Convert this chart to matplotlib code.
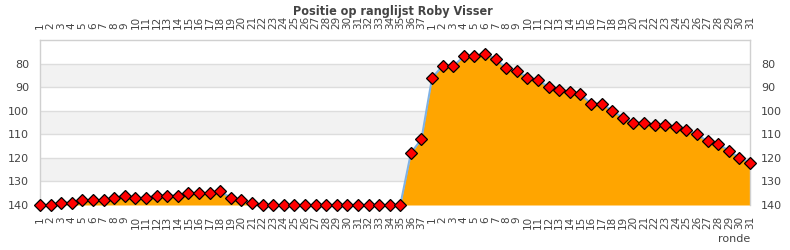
import matplotlib
matplotlib.use("Agg")
import matplotlib.pyplot as plt
import numpy as np

title = "Positie op ranglijst Roby Visser"
season1 = [140, 140, 139, 139, 138, 138, 138, 137, 136, 137, 137, 136, 136, 136, 135, 135, 135, 134,
           137, 138, 139, 140, 140, 140, 140, 140, 140, 140, 140, 140, 140, 140, 140, 140, 140, 118, 112]
season2 = [86, 81, 81, 77, 77, 76, 78, 82, 83, 86, 87, 90, 91, 92, 93, 97, 97, 100, 103, 105,
           105, 106, 106, 107, 108, 110, 113, 114, 117, 120, 122]
labels = [str(i) for i in range(1, 38)] + [str(i) for i in range(1, 32)]
values = season1 + season2
yticks = [80, 90, 100, 110, 120, 130, 140]

fig = plt.figure(figsize=(7.9, 2.5), dpi=100)
ax = fig.add_axes([40/790, 45/250, 710/790, 165/250])
x = np.arange(len(values))

# bands
for lo in (80, 100, 120):
    ax.axhspan(lo, lo + 10, color="#f2f2f2", zorder=0, lw=0)
for t in yticks:
    ax.axhline(t, color="#dddddd", lw=1, zorder=1)

ax.fill_between(x, values, 140, color="#FFA500", zorder=2, lw=0)
ax.plot(x, values, color="#7fb2e5", lw=1.5, zorder=3)
ax.plot(x, values, ls="none", marker="D", ms=6, mfc="#ff0000", mec="#000000", mew=0.9,
        zorder=4, clip_on=False)

ax.set_xlim(0, len(values) - 1)
ax.set_ylim(140, 70)
ax.set_yticks(yticks)
ax.set_xticks(x)
ax.set_xticklabels(labels, rotation=90, fontsize=7.5, color="#444444")
ax.tick_params(axis="x", which="both", top=True, labeltop=True, bottom=True, labelbottom=True,
               length=0, pad=8)
ax.tick_params(axis="y", left=True, right=True, labelleft=True, labelright=True, length=0,
               labelsize=8, labelcolor="#444444", pad=8)
for t in ax.xaxis.get_major_ticks():
    t.label2.set_rotation(90)
    t.label2.set_fontsize(7.5)
    t.label2.set_color("#444444")

for s in ax.spines.values():
    s.set_color("#d0d0d0")
    s.set_linewidth(1)
ax.spines["bottom"].set_visible(False)

fig.text(393/790, 1 - 11/250, title, ha="center", va="center", fontsize=9, fontweight="bold",
         color="#444444", fontstretch="condensed")
fig.text(750/790, 1 - 239/250, "ronde", ha="right", va="center", fontsize=8, color="#444444")

fig.savefig("out.png", dpi=100)
